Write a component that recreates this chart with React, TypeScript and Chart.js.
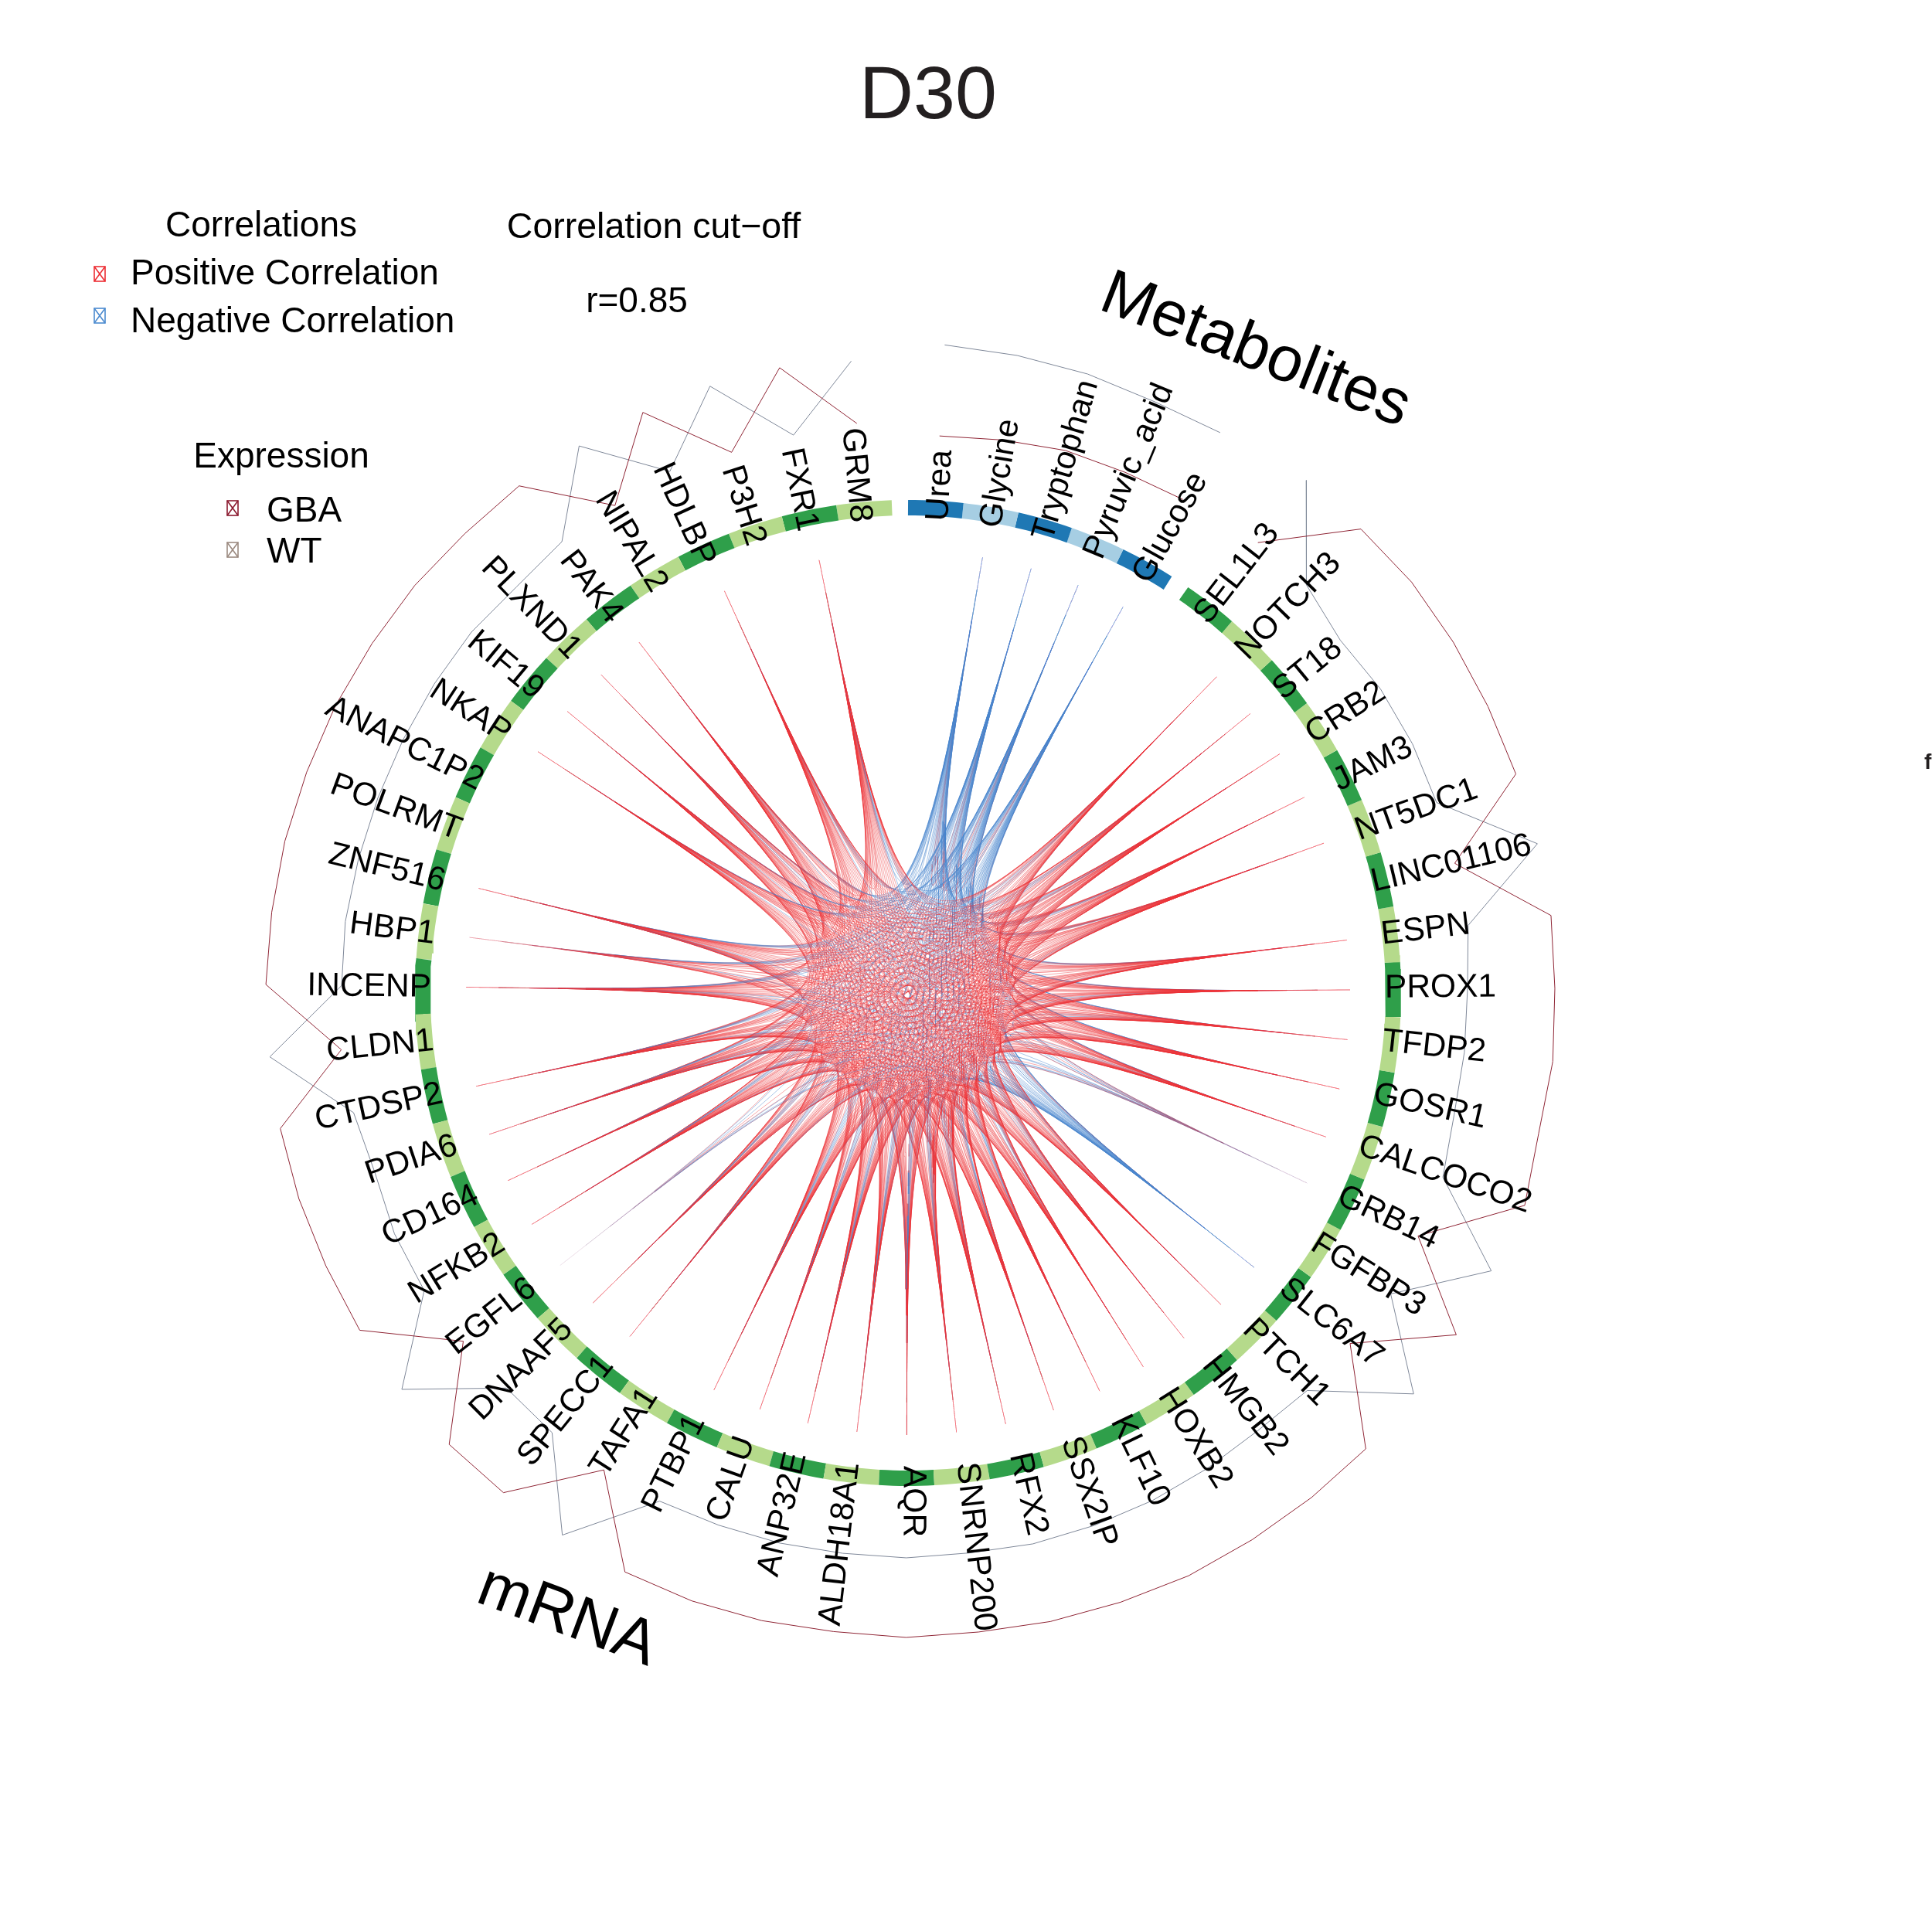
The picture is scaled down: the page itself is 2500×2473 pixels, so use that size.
import React, { useEffect, useRef } from "react";
import { Chart, registerables } from "chart.js";

Chart.register(...registerables);

const metabolites = ["Urea", "Glycine", "Tryptophan", "Pyruvic_acid", "Glucose"];
const genes = [
  "SEL1L3", "NOTCH3", "ST18", "CRB2", "JAM3", "NT5DC1", "LINC01106", "ESPN", "PROX1", "TFDP2",
  "GOSR1", "CALCOCO2", "GRB14", "FGFBP3", "SLC6A7", "PTCH1", "HMGB2", "HOXB2", "KLF10", "SSX2IP",
  "RFX2", "SNRNP200", "AQR", "ALDH18A1", "ANP32E", "CALU", "PTBP1", "TAFA1", "SPECC1", "DNAAF5",
  "EGFL6", "NFKB2", "CD164", "PDIA6", "CTDSP2", "CLDN1", "INCENP", "HBP1", "ZNF516", "POLRMT",
  "ANAPC1P2", "NKAP", "KIF19", "PLXND1", "PAK4", "NIPAL2", "HDLBP", "P3H2", "FXR1", "GRM8",
];

// Expression track values per sector
const metaboliteGBA = [0.72, 0.76, 0.81, 0.8, 0.81];
const metaboliteWT = [1.9, 1.87, 1.84, 1.79, 1.8];
const geneGBA = [
  0.88, 1.89, 1.91, 1.89, 1.87, 1.86, 0.77, 1.88, 1.87, 1.89,
  1.86, 1.94, 0.81, 1.86, 0.8, 1.86, 1.86, 1.86, 1.87, 1.85,
  1.84, 1.82, 1.84, 1.82, 1.84, 1.85, 1.84, 0.82, 1.82, 1.83,
  0.81, 1.83, 1.82, 1.82, 1.81, 0.87, 1.81, 1.8, 1.8, 1.79,
  1.79, 1.78, 1.78, 1.76, 1.77, 0.86, 1.76, 0.86, 1.76, 0.9,
];
const geneWT = [
  1.9, 0.88, 0.72, 0.77, 0.78, 0.77, 1.87, 0.8, 0.74, 0.74,
  0.74, 0.82, 1.86, 0.86, 1.85, 0.79, 0.75, 0.77, 0.79, 0.8,
  0.81, 0.79, 0.81, 0.8, 0.81, 0.81, 0.82, 1.82, 0.82, 0.79,
  1.82, 0.85, 0.84, 0.78, 0.84, 1.8, 0.83, 0.84, 0.82, 0.81,
  0.81, 0.82, 0.83, 0.8, 0.86, 1.76, 0.92, 1.76, 0.87, 1.71,
];

// Features that carry correlation links
const linkedNodes = [
  "Glycine", "Tryptophan", "Pyruvic_acid", "Glucose",
  "NOTCH3", "ST18", "CRB2", "JAM3", "NT5DC1", "ESPN", "PROX1", "TFDP2", "GOSR1", "CALCOCO2",
  "GRB14", "SLC6A7", "PTCH1", "HMGB2", "HOXB2", "KLF10", "SSX2IP", "RFX2", "SNRNP200", "AQR",
  "ALDH18A1", "ANP32E", "CALU", "PTBP1", "SPECC1", "DNAAF5", "EGFL6", "NFKB2", "CD164", "PDIA6",
  "CTDSP2", "INCENP", "HBP1", "ZNF516", "NKAP", "KIF19", "PLXND1", "PAK4", "HDLBP", "FXR1",
];

// Upper triangle of the correlation-sign table: row i, columns i+1...
// + positive, - negative, . below the cut-off (spaces only group columns)
const linkSignRows = [
  "+++ ---------- ++ -------------- . -------------",
  "++ ---------- .+ -------------- . -------------",
  "+ ---------- ++ -------------- . -------------",
  "---------- .+ -------------- . -------------",
  "+++++++++ . - ++++++++++++++ . +++++ + +++++++",
  "++++++++ - - ++++++++++++++ . +++++ . +++++++",
  "+++++++ . - ++++++++++++++ + +++++ + +++++++",
  "++++++ . - ++++++++++++++ . +++++ . +++++++",
  "+++++ - - ++++++++++++++ . +++++ + +++++++",
  "++++ . - ++++++++++++++ . +++++ . +++++++",
  "+++ . - ++++++++++++++ - +++++ + +++++++",
  "++ - - ++++++++++++++ . +++++ . +++++++",
  "+ . - ++++++++++++++ . +++++ + +++++++",
  "- - ++++++++++++++ . +++++ . +++++++",
  ". .-.+.-..-.+.-. . ..-.-..+.-.+.",
  "-------------- . -------------",
  "+++++++++++++ - +++++ . +++++++",
  "++++++++++++ . +++++ + +++++++",
  "+++++++++++ . +++++ . +++++++",
  "++++++++++ . +++++ + +++++++",
  "+++++++++ + +++++ . +++++++",
  "++++++++ . +++++ + +++++++",
  "+++++++ . +++++ . +++++++",
  "++++++ - +++++ + +++++++",
  "+++++ . +++++ . +++++++",
  "++++ . +++++ + +++++++",
  "+++ . +++++ . +++++++",
  "++ + +++++ + +++++++",
  "+ . +++++ . +++++++",
  ". +++++ + +++++++",
  "..-...-...+..",
  "++++ . +++++++",
  "+++ + +++++++",
  "++ . +++++++",
  "+ + +++++++",
  ". +++++++",
  "+.+.+.+",
  "++++++",
  "+++++",
  "++++",
  "+++",
  "++",
  "+",
];

const sectorSpan = 6.47;
const geneStart = 34.6;
const ringRadius = 628;
const ringWidth = 20;
const linkRadius = 572;
const labelRadius = 617;
const trackBase = 650;
const trackScale = 100;
const linkSteps = 40;

const toXY = (deg: number, r: number) => {
  const a = (deg * Math.PI) / 180;
  return { x: r * Math.sin(a), y: r * Math.cos(a) };
};

const metaboliteAngle = (i: number) => (i + 0.5) * sectorSpan;
const geneAngle = (i: number) => geneStart + (i + 0.5) * sectorSpan;

const angleOf = (name: string) => {
  const m = metabolites.indexOf(name);
  return m >= 0 ? metaboliteAngle(m) : geneAngle(genes.indexOf(name));
};

const arcPoints = (from: number, to: number) => {
  const n = 8;
  const pts = [];
  for (let k = 0; k <= n; k++) pts.push(toXY(from + ((to - from) * k) / n, ringRadius));
  return pts;
};

const linkCurve = (a: number, b: number) => {
  const A = toXY(a, linkRadius);
  const B = toXY(b, linkRadius);
  const pts = [];
  for (let k = 0; k <= linkSteps; k++) {
    const t = k / linkSteps;
    const u = (1 - t) ** 3;
    const v = t ** 3;
    pts.push({ x: u * A.x + v * B.x, y: u * A.y + v * B.y });
  }
  return pts;
};

// The line fades towards its two ends, where a whole bundle shares one hairline.
const strokeAlongLink = (rgb: string, full: number) => {
  const colours: string[] = [];
  for (let k = 0; k < linkSteps; k++) {
    const t = Math.min(k + 0.5, linkSteps - k - 0.5) / linkSteps;
    colours.push(`rgba(${rgb},${Math.min(full, 0.016 * Math.exp(t * 27)).toFixed(3)})`);
  }
  return (ctx: any) => colours[ctx.p0DataIndex];
};
const redStroke = strokeAlongLink("236,50,56", 0.42);
const blueStroke = strokeAlongLink("72,132,204", 0.46);

const lineBase = {
  showLine: true,
  pointRadius: 0,
  pointHitRadius: 0,
  tension: 0,
  fill: false,
  parsing: false,
  normalized: true,
};

const buildDatasets = () => {
  const front: any[] = [];
  const blue: any[] = [];
  const behind: any[] = [];
  const lowest: any[] = [];
  linkSignRows.forEach((row, i) => {
    const cells = row.replace(/ /g, "");
    for (let c = 0; c < cells.length; c++) {
      const sign = cells[c];
      if (sign === ".") continue;
      const j = i + 1 + c;
      const d = {
        ...lineBase,
        data: linkCurve(angleOf(linkedNodes[i]), angleOf(linkedNodes[j])),
        borderColor: sign === "+" ? "rgba(236,50,56,0.42)" : "rgba(72,132,204,0.46)",
        segment: { borderColor: sign === "+" ? redStroke : blueStroke },
        borderWidth: 1,
      };
      if (sign === "-") blue.push(d);
      else if (i < 4) lowest.push(d);
      else if (i < 19) front.push(d);
      else behind.push(d);
    }
  });

  const ds: any[] = [];
  metabolites.forEach((_, i) => {
    const c = metaboliteAngle(i);
    ds.push({
      ...lineBase,
      data: arcPoints(c - sectorSpan / 2, c + sectorSpan / 2),
      borderColor: i % 2 === 0 ? "#1f78b4" : "#a6cee3",
      borderWidth: ringWidth,
      borderCapStyle: "butt",
    });
  });
  genes.forEach((_, i) => {
    const c = geneAngle(i);
    ds.push({
      ...lineBase,
      data: arcPoints(c - sectorSpan / 2, c + sectorSpan / 2),
      borderColor: i % 2 === 0 ? "#2f9f4a" : "#b5da8b",
      borderWidth: ringWidth,
      borderCapStyle: "butt",
    });
  });

  const track = (values: number[], angle: (i: number) => number, color: string) =>
    ds.push({
      ...lineBase,
      data: values.map((v, i) => toXY(angle(i), trackBase + trackScale * v)),
      borderColor: color,
      borderWidth: 1,
    });
  track(metaboliteGBA, metaboliteAngle, "#8f2535");
  track(metaboliteWT, metaboliteAngle, "#7f8899");
  track(geneGBA, geneAngle, "#8f2535");
  track(geneWT, geneAngle, "#7f8899");
  return [...ds, ...front, ...blue, ...behind, ...lowest];
};

const FONT = '"Liberation Sans", Arial, sans-serif';

const textPlugin = {
  id: "circosText",
  afterDatasetsDraw(chart: any) {
    const { ctx, scales } = chart;
    const put = (t: string, x: number, y: number, size: number, align = "left", color = "#000", rot = 0, weight = "") => {
      ctx.save();
      ctx.translate(x, y);
      ctx.rotate((rot * Math.PI) / 180);
      ctx.font = `${weight} ${size}px ${FONT}`;
      ctx.textAlign = align;
      ctx.textBaseline = "alphabetic";
      ctx.fillStyle = color;
      ctx.fillText(t, 0, 0);
      ctx.restore();
    };

    const label = (name: string, deg: number) => {
      const c = Math.cos((deg * Math.PI) / 180);
      const p = toXY(deg, labelRadius - 5 * c * c);
      const px = scales.x.getPixelForValue(p.x);
      const py = scales.y.getPixelForValue(p.y);
      const right = deg <= 181;
      ctx.save();
      ctx.translate(px, py);
      ctx.rotate((((right ? deg - 90 : deg + 90) * Math.PI) / 180));
      ctx.font = `42.5px ${FONT}`;
      ctx.textAlign = right ? "left" : "right";
      ctx.textBaseline = "alphabetic";
      ctx.fillStyle = "#000";
      ctx.fillText(name, 0, right ? 10 + 6.5 * c : 13 + 6 * c);
      ctx.restore();
    };
    metabolites.forEach((n, i) => label(n, metaboliteAngle(i)));
    genes.forEach((n, i) => label(n, geneAngle(i)));

    put("D30", 1201, 153, 97, "center", "#231f20");
    put("Metabolites", 1616, 476, 82.5, "center", "#000", 21.3);
    put("mRNA", 726, 2114, 81.5, "center", "#000", 20.5);

    put("Correlations", 338, 306, 46, "center");
    put("Positive Correlation", 169, 368, 46);
    put("Negative Correlation", 169, 430, 46);
    put("Correlation cut\u2212off", 846, 308, 46.5, "center");
    put("r=0.85", 824, 404, 46, "center");
    put("Expression", 364, 605, 46, "center");
    put("GBA", 345, 675, 46);
    put("WT", 345, 728, 46);
    put("f", 2490, 995, 28, "left", "#231f20", 0, "bold");

    const key = (x: number, y: number, color: string) => {
      const w = 14;
      const h = 19;
      ctx.save();
      ctx.strokeStyle = color;
      ctx.lineWidth = 1.6;
      ctx.strokeRect(x, y, w, h);
      ctx.beginPath();
      ctx.moveTo(x, y);
      ctx.lineTo(x + w, y + h);
      ctx.moveTo(x + w, y);
      ctx.lineTo(x, y + h);
      ctx.stroke();
      ctx.restore();
    };
    key(122, 345, "#ed2e34");
    key(122, 399, "#4c8bd0");
    key(294, 648, "#8b1a2f");
    key(294, 702, "#9b8a80");
  },
};

export default function App() {
  const ref = useRef<HTMLCanvasElement | null>(null);
  useEffect(() => {
    if (!ref.current) return;
    const chart = new Chart(ref.current, {
      type: "scatter",
      data: { datasets: buildDatasets() },
      plugins: [textPlugin],
      options: {
        animation: false,
        responsive: false,
        devicePixelRatio: 1,
        events: [],
        layout: { padding: 0 },
        plugins: { legend: { display: false }, tooltip: { enabled: false }, title: { display: false } },
        scales: {
          x: { type: "linear", min: -1175, max: 1325, display: false },
          y: { type: "linear", min: -1188, max: 1285, display: false },
        },
      },
    } as any);
    return () => chart.destroy();
  }, []);
  return (
    <div style={{ position: "absolute", left: 0, top: 0, width: 2500, height: 2473, background: "#fff" }}>
      <canvas ref={ref} width={2500} height={2473} style={{ display: "block" }} />
    </div>
  );
}
